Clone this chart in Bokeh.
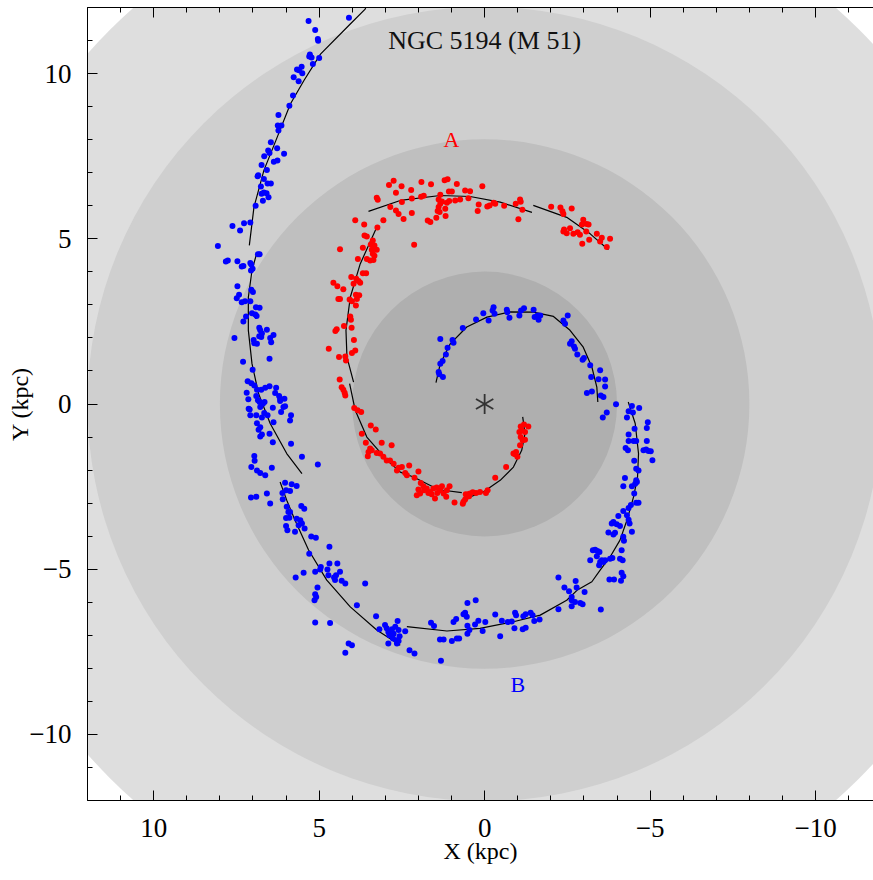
import numpy as np
from bokeh.plotting import figure
from bokeh.models import Range1d, LinearAxis, SingleIntervalTicker, Label, CustomLabelingPolicy
from bokeh.embed import file_html
from bokeh.resources import INLINE

# ---------------- data (kpc) ----------------
disk_r = [16, 12, 8, 4]
disk_colors = ["#dedede", "#cfcfcf", "#bfbfbf", "#afafaf"]
nucleus_x = [0.0]
nucleus_y = [0.0]

red_top_x = [2.75,2.89,2.51,1.91,1.62,1.21,1.12,0.84,0.07,3.26,3.23,2.68,2.22,1.84,1.34,1.08,0.99,0.59,0.44,
             2.50,2.20,1.92,1.39,1.29,1.34,1.14,1.07,0.89,0.74,0.49,-1.07,-1.09,-0.94,0.18,-0.08,-0.15,-0.27,-0.32,-0.59,
             2.85,2.68,2.60,2.45,2.20,1.39,1.42,1.36,1.19,1.18,1.46,1.72,1.64,0.21,-1.14,-1.02,3.91,3.06,3.64,3.24]
red_top_y = [6.76,6.63,6.59,6.72,6.65,6.77,6.80,6.66,6.59,6.24,6.18,6.39,6.48,6.30,6.33,6.43,6.43,6.46,6.44,
             6.11,6.22,6.27,6.19,6.13,6.06,6.09,6.14,6.16,6.19,6.23,6.19,6.12,6.06,6.04,5.98,6.01,6.09,6.06,6.00,
             5.96,5.86,5.75,5.60,5.78,5.96,5.84,5.81,5.91,5.69,5.64,5.55,5.51,5.84,5.88,5.59,5.56,5.56,5.43,5.34]

red_end_x = [-2.01,-2.29,-2.35,-2.38,-2.63,-2.98,-3.08,-3.14,-2.94,-2.40,-2.58,-2.38,-2.48,-2.68,-2.81,-2.88,
             -3.07,-3.39,-3.54,-3.79,-2.95,-3.16,-3.49,-3.69]
red_end_y = [5.97,5.95,5.83,5.75,5.92,5.58,5.45,5.43,5.43,5.28,5.32,5.22,5.17,5.15,5.20,5.12,
             5.22,5.15,5.03,5.00,4.85,4.97,4.92,4.75]

red_left_x = [3.63,3.56,3.38,3.44,3.33,3.41,3.26,3.38,3.46,3.36,3.33,3.56,3.83,4.37,3.68,
              3.68,3.58,4.03,3.88,3.81,3.76,3.96,4.57,4.45,4.27,3.89,3.79,3.86,4.08,4.01,4.42,4.37,3.89,
              4.06,4.04,4.25,4.02,4.47,4.51,3.95,4.71,3.91,4.01,4.40,4.21,4.19,
              4.38,4.32,4.27,4.23,4.21,3.94,3.84,3.73,3.44,3.29,3.71,3.11,2.81,3.59,3.46,3.51,3.41,3.26,3.16,
              3.06,2.96,3.53,2.86,2.75,2.60,2.65,2.13]
red_left_y = [5.10,5.07,4.95,4.83,4.80,4.67,4.67,4.55,4.34,4.36,4.49,4.39,4.39,4.68,4.73,
              3.96,3.96,3.84,3.79,3.72,3.67,3.64,3.67,3.56,3.47,3.31,3.29,3.18,3.16,3.11,3.18,3.18,2.98,
              2.65,2.55,2.36,2.31,2.26,2.21,1.94,1.67,1.62,1.54,1.42,1.44,1.32,
              0.74,0.51,0.43,0.34,0.26,-0.12,-0.19,-0.24,-0.65,-0.77,-0.90,-1.17,-1.25,-1.17,-1.35,-1.45,-1.40,-1.48,-1.50,
              -1.60,-1.71,-1.58,-1.71,-1.81,-1.93,-2.01,4.82]

red_inner_x = [-1.09,-1.19,-1.32,-1.05,-1.12,-1.22,-1.09,-1.15,-1.22,-1.07,-0.95,-0.92,-0.99,-0.87,-0.65,-0.32,
               -0.09,-0.04,0.14,0.26,0.36,0.44,0.49,0.54,0.59,0.64,0.66,0.47,0.57,0.91,1.06,1.29,1.34,1.45,1.55,
               1.60,1.65,1.75,1.85,1.93,2.00,2.05,1.95,1.83,1.70,1.50,1.43,1.24,1.16,1.14,2.00,2.28,2.12,2.40,2.35,2.50]
red_inner_y = [-0.68,-0.62,-0.68,-0.85,-0.80,-0.85,-1.00,-1.10,-1.08,-1.25,-1.45,-1.52,-1.60,-1.50,-1.91,-2.23,
               -2.61,-2.69,-2.66,-2.69,-2.67,-2.71,-2.73,-2.81,-2.89,-2.96,-3.02,-2.79,-2.73,-2.98,-2.49,-2.49,-2.61,-2.53,-2.56,
               -2.73,-2.66,-2.56,-2.49,-2.39,-2.59,-2.76,-2.71,-2.61,-2.69,-2.86,-2.69,-2.71,-2.81,-2.61,-2.04,-1.86,-2.23,-2.09,-2.16,-1.91]

blue_top_x = [5.32,5.12,5.04,5.03,5.28,5.30,5.23,5.00,5.19,5.53,5.67,5.61,5.51,5.77,5.62,5.79,5.90,6.23,6.25,6.14,
              6.23,6.46,6.27,6.54,6.50,6.06,6.66,6.26,6.37,6.74,6.58,6.84,6.86,6.67,6.56,6.46,6.76,6.67,6.74,6.59,
              6.53,6.70,6.92,7.08,7.27,7.62,7.39,4.10]
blue_top_y = [11.59,11.32,11.05,10.99,10.58,10.52,10.49,10.47,10.29,10.21,10.12,10.10,10.01,9.89,9.77,9.34,9.03,8.75,8.43,8.43,
              8.28,7.92,7.74,7.67,7.60,7.57,7.50,7.37,7.33,7.23,7.08,6.92,6.89,6.81,6.67,6.67,6.58,6.40,6.36,6.38,
              6.26,6.15,6.00,5.49,5.47,5.39,5.25,11.69]

blue_left_x = [8.06,7.82,7.76,7.47,7.34,7.29,7.08,7.05,7.01,7.06,6.85,6.80,7.47,7.42,7.49,7.34,7.24,7.08,7.05,7.00,
               6.91,6.80,7.03,6.93,6.89,7.21,7.29,6.81,6.78,6.58,6.73,6.81,6.75,6.38,6.48,6.45,6.98,6.96,6.88,7.56,
               7.30,6.50,7.01,7.16,7.05,6.96,6.88,7.19,7.14,6.90,6.85,6.75,6.63,6.50,6.30,6.33,6.21,6.18,6.05,6.18,
               6.80,6.70,6.78,6.65,7.13,7.10,7.08,6.90,6.73,6.66,6.56,6.40,6.15,6.08,6.03,5.85,5.88,6.88,6.78,6.83,
               6.38,6.73,6.78,6.50,6.40,5.85,5.52,5.04,6.96,6.95,7.05,6.43]
blue_left_y = [4.78,4.31,4.34,4.32,4.16,4.18,4.27,4.22,4.09,4.04,4.53,4.53,3.56,3.31,3.20,3.08,3.11,3.11,3.46,3.39,
               2.93,2.91,2.75,2.71,2.66,2.65,2.50,2.31,2.23,2.25,2.13,2.05,2.03,2.09,2.00,1.87,1.94,1.84,1.82,2.00,
               1.28,1.37,1.04,0.69,0.63,0.56,0.43,0.34,0.14,0.24,0.11,0.43,0.49,0.54,0.49,0.33,0.24,0.16,0.16,0.09,
               0.06,0.01,-0.09,0.06,-0.14,-0.17,-0.34,-0.34,-0.41,-0.27,-0.34,-0.11,-0.24,-0.09,-0.07,-0.34,-0.50,-0.58,-0.70,-0.78,
               -0.55,-0.92,-0.98,-0.90,-1.16,-1.20,-1.60,-1.83,-1.57,-1.72,-1.91,-1.93]

blue_inner_x = [1.34,0.97,0.94,1.12,1.17,1.27,1.34,1.39,1.37,1.26,0.66,0.26,0.04,-0.12,-0.27,-0.24,-0.30,-0.67,-0.69,-0.75,
                -1.05,-1.10,-1.19,-1.48,-1.51,-1.63,-1.68,-1.60,-2.38,-2.43,-2.51,-2.58,-2.63,-2.70,-2.73,-2.80,-2.96,-3.00,-3.19,-3.22,
                -3.44,-3.49,-3.64]
blue_inner_y = [1.97,1.94,1.85,1.70,1.50,1.30,1.22,0.97,0.90,0.82,2.30,2.56,2.75,2.53,2.93,2.83,2.73,2.85,2.78,2.61,
                2.68,2.83,2.90,2.85,2.63,2.55,2.68,2.68,2.53,2.43,2.68,1.82,1.90,1.74,1.67,1.50,1.34,1.39,1.17,0.82,
                0.75,1.02,0.74]

blue_right_x = [-3.09,-3.24,-3.51,-3.59,-3.64,-3.97,-3.69,-3.57,-4.45,-4.67,-4.35,-4.48,-4.30,-4.93,-4.90,-4.53,-4.35,-4.35,-4.50,-4.58,
                -4.90,-4.26,-4.33,-4.80,-4.88,-4.95,-5.02,-4.52,-5.07,-4.58,-4.65,-4.24,-4.19,-4.45,-4.55,-4.60,-4.58,-4.52,-4.58,-4.65,
                -4.42,-4.35,-4.19,-4.04,-4.30,-4.35,-4.38,-3.89,-3.84,-3.99,-4.09,-3.74,-3.89,-3.94,-4.19,-4.21,-4.45,-3.34,-3.41,-3.27,
                -3.47,-4.14,-3.19,-3.39,-3.49,-3.46,-3.54,-3.59,-3.64,-3.79,-3.86,-4.09,-4.17,-4.14,-4.19,-3.77,-3.91,-4.12,-2.75,-2.41,
                -2.78,-2.55,-3.02,-2.63,-2.63,-2.73,-2.89,-2.96,-2.63,-3.51]
blue_right_y = [0.33,0.38,0.26,0.21,0.53,-0.01,-0.26,-0.41,-0.06,-0.12,-0.22,-0.26,-0.41,-0.55,-0.73,-0.75,-0.92,-1.12,-1.12,-1.12,
                -1.12,-1.33,-1.40,-1.40,-1.38,-1.42,-1.43,-1.72,-1.70,-1.96,-2.01,-2.24,-2.49,-2.49,-2.41,-2.36,-2.31,-2.71,-2.99,-2.99,
                -3.06,-3.15,-3.24,-3.39,-3.37,-3.50,-3.62,-3.57,-3.62,-3.64,-3.69,-3.89,-3.95,-3.90,-4.02,-4.14,-3.87,-4.41,-4.45,-4.43,
                -4.48,-4.43,-4.73,-4.61,-4.78,-4.88,-4.73,-4.78,-4.73,-4.68,-4.66,-4.68,-4.73,-5.11,-5.21,-5.31,-5.31,-5.35,-5.36,-5.55,
                -5.55,-5.67,-5.69,-5.84,-5.94,-5.99,-6.02,-6.06,-6.12,-6.22]

blue_lowleft_x = [6.88,6.78,6.63,7.06,6.90,6.58,6.48,6.03,5.83,5.68,6.00,5.88,6.11,6.10,5.98,5.93,5.88,5.54,5.45,6.00,
                  5.90,5.68,5.57,5.52,5.62,6.00,5.96,5.73,5.44,5.24,5.10,4.69,5.30,4.69,4.45,4.95,4.97,4.75,5.12,5.47,
                  5.71,4.72,4.49,4.55,4.52,4.37,4.32,4.21,3.61,5.05,5.12,5.09,5.14,3.86,5.12,4.67,3.28,3.18,4.11,4.01,4.21]
blue_lowleft_y = [-2.01,-2.09,-2.16,-2.83,-2.81,-2.71,-3.01,-2.38,-2.43,-2.48,-2.61,-2.63,-2.69,-2.88,-3.11,-3.27,-3.27,-3.09,-3.17,-3.45,
                  -3.44,-3.47,-3.52,-3.62,-3.67,-3.69,-3.82,-3.87,-3.77,-4.01,-4.05,-4.32,-4.53,-4.83,-4.83,-4.93,-5.01,-5.01,-5.08,-5.11,
                  -5.25,-5.18,-5.18,-5.25,-5.33,-5.08,-5.35,-5.43,-5.43,-5.55,-5.76,-5.84,-5.94,-6.09,-6.61,-6.63,-6.42,-6.82,-7.25,-7.30,-7.53]

blue_bottom_x = [3.01,2.96,2.91,2.88,2.80,2.75,2.70,2.63,2.60,2.57,2.67,2.60,2.91,2.77,2.40,2.65,2.27,2.12,1.32,1.62,
                 1.53,1.35,1.24,0.99,0.84,0.77,0.94,0.86,0.64,0.59,0.54,0.52,0.27,0.52,0.52,0.46,0.29,0.19,-0.02,0.06,
                 -0.32,-0.47,-0.52,-0.70,-0.82,-0.92,-0.95,-0.90,-1.15,-1.24,-1.17,-1.24,-1.39,-1.45,-1.50,-1.66,-2.23,-2.23]
blue_bottom_y = [-6.69,-6.79,-6.90,-7.00,-6.82,-6.95,-6.74,-6.57,-6.84,-7.03,-7.15,-7.17,-7.25,-7.10,-6.88,-7.25,-7.45,-7.55,-7.77,-6.62,
                 -6.72,-7.13,-7.13,-7.17,-7.10,-7.10,-6.60,-6.51,-6.36,-6.32,-6.44,-6.02,-5.94,-6.71,-6.95,-6.84,-6.67,-6.56,-6.60,-6.87,
                 -6.37,-7.03,-6.56,-6.60,-6.58,-6.32,-6.39,-6.79,-6.82,-6.77,-6.42,-6.36,-6.32,-6.39,-6.57,-6.52,-5.25,-6.21]

# spiral-arm fit curves (segments)
red_fit_x = [[-1.47,-2.48,-3.19,-3.74],
             [3.51,2.55,1.34,0.44,-0.47,-1.43],
             [3.26,3.76,4.06,4.19,4.16,3.96],
             [4.08,3.91,3.56,2.95,2.55,2.15,1.55,1.25,0.69],
             [-1.15,-1.22,-1.12,-0.87,-0.47,0.04,0.49]]
red_fit_y = [[6.01,5.65,5.15,4.67],
             [5.83,6.16,6.31,6.28,6.11,5.80],
             [5.35,4.24,3.23,2.23,1.42,0.66],
             [0.62,-0.19,-1.00,-1.70,-2.06,-2.21,-2.51,-2.61,-2.68],
             [-0.39,-0.90,-1.40,-1.91,-2.31,-2.66,-2.83]]
blue_fit_x = [[1.47,1.34,1.04,0.54,-0.07,-0.77,-1.47,-2.08,-2.58,-2.98,-3.24,-3.39,-3.42],
              [-4.34,-4.55,-4.65,-4.62,-4.50,-4.30,-4.09,-3.79,-3.49,-3.24,-2.79,-2.48,-1.68,-0.87,0.14,1.14,2.35],
              [2.55,3.26,4.06,4.77,5.32,5.73,5.98,6.18],
              [5.52,5.98,6.48,6.83,7.03,7.14,7.14,7.03,6.88],
              [7.11,6.97,6.67,6.27,5.87,5.46,4.96,4.06,3.61,3.52]]
blue_fit_y = [[0.65,1.22,1.82,2.33,2.63,2.79,2.78,2.65,2.23,1.72,1.12,0.51,0.06],
              [0.06,-0.59,-1.50,-2.21,-2.81,-3.52,-4.12,-4.63,-5.03,-5.38,-5.64,-5.94,-6.39,-6.59,-6.79,-6.87,-6.74],
              [-7.30,-6.84,-6.14,-5.33,-4.42,-3.52,-2.91,-2.36],
              [-2.11,-1.50,-0.59,0.31,1.22,2.23,3.23,4.04,4.59],
              [4.80,5.96,7.07,8.07,9.08,9.79,10.59,11.50,11.95,12.20]]

tick_overrides = {-10: "\u221210", -5: "\u22125"}

# ---------------- figure ----------------
FONT = "Liberation Serif"
p = figure(width=873, height=880, x_range=Range1d(12, -11.75), y_range=Range1d(-12, 12),
           output_backend="svg", toolbar_location=None,
           x_axis_location=None, y_axis_location=None,
           min_border_left=87, min_border_right=0, min_border_top=7, min_border_bottom=80)
p.grid.visible = False
p.outline_line_color = None
p.background_fill_color = "white"
p.border_fill_color = "white"


def style_axis(ax):
    ax.ticker = SingleIntervalTicker(interval=5, num_minor_ticks=5)
    ax.major_tick_in = 10
    ax.major_tick_out = 0
    ax.minor_tick_in = 5
    ax.minor_tick_out = 0
    ax.axis_line_color = "black"
    ax.major_tick_line_color = "black"
    ax.minor_tick_line_color = "black"
    ax.major_label_text_font = FONT
    ax.major_label_text_font_size = "27px"
    ax.major_label_text_color = "black"
    ax.major_label_overrides = tick_overrides
    ax.axis_label_text_font = FONT
    ax.axis_label_text_font_style = "normal"
    ax.axis_label_text_font_size = "24px"
    ax.axis_label_text_color = "black"


xb = LinearAxis(axis_label="X (kpc)")
style_axis(xb)
xb.major_label_standoff = 18
xb.axis_label_standoff = -2
p.add_layout(xb, "below")

yl = LinearAxis(axis_label="Y (kpc)")
style_axis(yl)
yl.major_label_standoff = 16
yl.axis_label_standoff = -7
p.add_layout(yl, "left")

# top frame edge with inward ticks only (no labels)
xt = LinearAxis()
style_axis(xt)
xt.major_label_text_font_size = "0px"
xt.major_label_standoff = 0
xt.major_label_policy = CustomLabelingPolicy(
    code="const all = Array.from(indices); for (const i of all) { indices.unset(i) } return indices")
p.add_layout(xt, "above")

# background disks
p.circle(x=[0] * len(disk_r), y=[0] * len(disk_r), radius=disk_r,
         fill_color=disk_colors, line_color=None)

# fitted arm curves
p.multi_line(xs=red_fit_x + blue_fit_x, ys=red_fit_y + blue_fit_y,
             line_color="black", line_width=1.2)

red_x = red_top_x + red_end_x + red_left_x + red_inner_x
red_y = red_top_y + red_end_y + red_left_y + red_inner_y
blue_x = blue_top_x + blue_left_x + blue_inner_x + blue_right_x + blue_lowleft_x + blue_bottom_x
blue_y = blue_top_y + blue_left_y + blue_inner_y + blue_right_y + blue_lowleft_y + blue_bottom_y

p.scatter(red_x, red_y, size=6, fill_color="#ff0000", line_color=None)
p.scatter(blue_x, blue_y, size=6, fill_color="#0000ff", line_color=None)

# nucleus: six-armed asterisk
p.scatter(x=nucleus_x * 3, y=nucleus_y * 3, marker="dash", size=20,
          angle=[np.pi / 2, np.pi / 6, -np.pi / 6], line_color="#333333", line_width=1.8)

p.add_layout(Label(x=0, y=11, text="NGC 5194 (M 51)", text_align="center", text_baseline="middle",
                   text_font=FONT, text_font_size="26px", text_color="#111111"))
p.add_layout(Label(x=1.0, y=8.0, text="A", text_align="center", text_baseline="middle",
                   text_font=FONT, text_font_size="22px", text_color="#ff0000"))
p.add_layout(Label(x=-1.0, y=-8.5, text="B", text_align="center", text_baseline="middle",
                   text_font=FONT, text_font_size="22px", text_color="#0000ff"))

open("out.html", "w").write(file_html(p, INLINE))
